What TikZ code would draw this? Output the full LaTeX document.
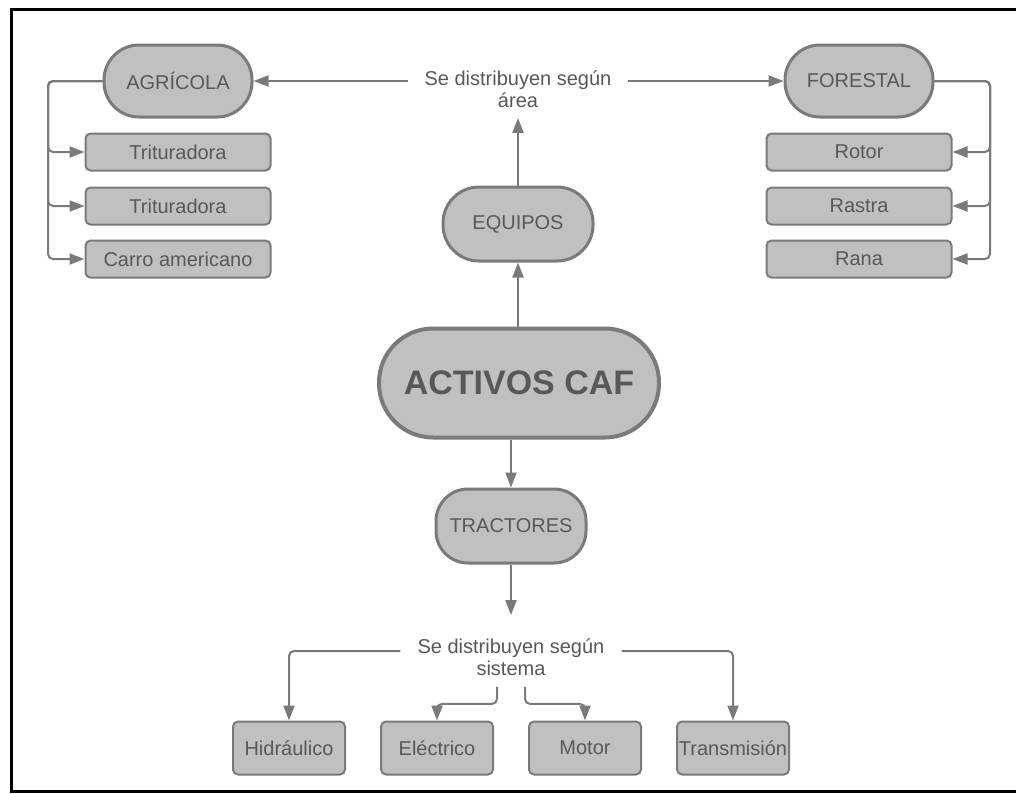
\documentclass[tikz,border=0pt]{standalone}
\usepackage{fontspec}
\setmainfont{Liberation Sans}
\usetikzlibrary{arrows.meta}
\definecolor{cafline}{RGB}{122,122,122}
\definecolor{caffill}{RGB}{192,192,192}
\definecolor{caftext}{RGB}{88,88,88}

\begin{document}
\begin{tikzpicture}[x=1pt, y=-1pt,
    pill/.style={draw=cafline, fill=caffill, line width=3pt, inner sep=0pt, align=center, text=caftext, font=\fontsize{20}{23}\selectfont},
    leaf/.style={draw=cafline, fill=caffill, line width=2pt, rounded corners=5pt, minimum width=185pt, minimum height=37pt, inner sep=0pt, text=caftext, font=\fontsize{20}{23}\selectfont},
    note/.style={inner xsep=16pt, inner ysep=10pt, align=center, text=caftext, font=\fontsize{20}{22.5}\selectfont},
    conn/.style={draw=cafline, line width=2pt, rounded corners=5pt, -{Triangle[length=15pt, width=11pt]}}
  ]
  \useasboundingbox (0,0) rectangle (1016,793);
  \draw[line width=3pt] (1020,9) -- (11,9) -- (11,791) -- (1020,791);

  \node[pill, minimum width=148pt, minimum height=72pt, rounded corners=35pt] (agri) at (178,81) {AGRÍCOLA};
  \node[pill, minimum width=148pt, minimum height=72pt, rounded corners=35pt] (fore) at (859,81) {FORESTAL};
  \node[pill, minimum width=150pt, minimum height=74pt, rounded corners=36pt] (equipos) at (518,224) {EQUIPOS};
  \node[pill, minimum width=280pt, minimum height=109pt, rounded corners=54pt, line width=4pt, font=\bfseries\fontsize{34}{40}\selectfont] (activos) at (519,383) {ACTIVOS CAF};
  \node[pill, minimum width=150pt, minimum height=74pt, rounded corners=32pt] (tract) at (511,526) {TRACTORES};

  \node[note] (area) at (518,89) {Se distribuyen según\\área};
  \node[note, inner xsep=17pt, inner ysep=11pt] (sist) at (511,657) {Se distribuyen según\\sistema};

  \node[leaf] (trit1) at (178,152) {Trituradora};
  \node[leaf] (trit2) at (178,206) {Trituradora};
  \node[leaf] (carro) at (178,259) {Carro americano};
  \node[leaf] (rotor) at (859,152) {Rotor};
  \node[leaf] (rastra) at (859,206) {Rastra};
  \node[leaf] (rana) at (859,259) {Rana};

  \node[leaf, minimum width=112pt, minimum height=53pt] (hidra) at (289,748) {Hidráulico};
  \node[leaf, minimum width=112pt, minimum height=53pt] (elec) at (437,748) {Eléctrico};
  \node[leaf, minimum width=112pt, minimum height=53pt] (motor) at (585,748) {Motor};
  \node[leaf, minimum width=112pt, minimum height=53pt] (trans) at (733,748) {Transmisión};

  \coordinate (lbus) at (48,0);
  \coordinate (rbus) at (990,0);

  \draw[conn] (area.west |- agri.east) -- (agri.east);
  \draw[conn] (area.east |- fore.west) -- (fore.west);
  \draw[conn] (equipos.north) -- (equipos.north |- area.south);
  \draw[conn] (activos.north -| equipos) -- (equipos.south);
  \draw[conn] (activos.south -| tract) -- (tract.north);
  \draw[conn] (tract.south) -- ([yshift=12pt]sist.north);

  \draw[conn] (agri.west) -- (agri.west -| lbus) |- (trit1.west);
  \draw[conn] (agri.west) -- (agri.west -| lbus) |- (trit2.west);
  \draw[conn] (agri.west) -- (agri.west -| lbus) |- (carro.west);
  \draw[conn] (fore.east) -- (fore.east -| rbus) |- (rotor.east);
  \draw[conn] (fore.east) -- (fore.east -| rbus) |- (rastra.east);
  \draw[conn] (fore.east) -- (fore.east -| rbus) |- (rana.east);

  \draw[conn] ([yshift=6pt]sist.west) -| (hidra.north);
  \draw[conn] ([yshift=6pt]sist.east) -| (trans.north);
  \draw[conn] ([xshift=-14pt]sist.south) -- ++(0,17) -| (elec.north);
  \draw[conn] ([xshift=14pt]sist.south) -- ++(0,17) -| (motor.north);
\end{tikzpicture}
\end{document}
